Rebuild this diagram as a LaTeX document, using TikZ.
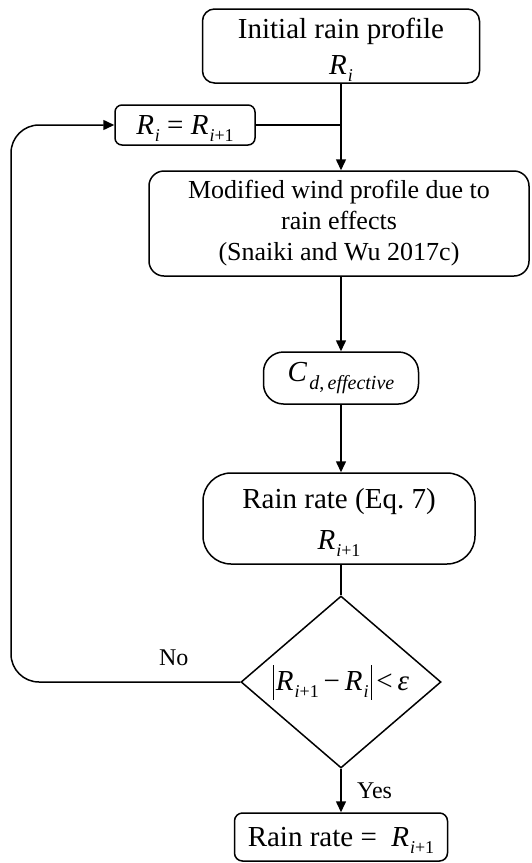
\documentclass[tikz,border=0pt]{standalone}
\usepackage{fontspec}
\setmainfont{Liberation Serif}
\usetikzlibrary{shapes.geometric,arrows.meta}

\newcommand{\lowsub}[1]{\kern1pt\raisebox{-7pt}[0pt][0pt]{\fontsize{18}{18}\selectfont #1}}
\newcommand{\Ri}{\textit{R}\lowsub{\textit{i}}}
\newcommand{\Rnext}{\textit{R}\lowsub{\textit{i}+1}}
\newcommand{\absbar}{\rule[-9pt]{0.9pt}{35pt}}

\begin{document}
\begin{tikzpicture}[x=1pt, y=-1pt,
    box/.style={draw, line width=1.5pt, inner sep=0pt, align=center},
    flow/.style={line width=1.5pt, -{Triangle[length=11pt,width=10pt]}},
    plain/.style={line width=1.5pt},
    lab/.style={font=\fontsize{24}{28}\selectfont}]
    \useasboundingbox (0,0) rectangle (531,863);

    % Main column
    \node[box, rounded corners=12pt, minimum width=277pt, minimum height=74pt,
          font=\fontsize{29}{36}\selectfont] (init) at (341,46) {Initial rain profile\\ \Ri};
    \node[box, rounded corners=15pt, minimum width=380pt, minimum height=105pt,
          font=\fontsize{26}{31}\selectfont] (wind) at (339,223.5)
          {Modified wind profile due to\\ rain effects\\ (Snaiki and Wu 2017c)};
    \node[box, rounded corners=20pt, minimum width=155pt, minimum height=52pt,
          font=\fontsize{29}{34}\selectfont] (cd) at (341,378)
          {\textit{C}\kern2pt\raisebox{-8pt}{\fontsize{20}{20}\selectfont\textit{d},\,\textit{effective}}};
    \node[box, rounded corners=28pt, minimum width=272pt, minimum height=91pt,
          font=\fontsize{29}{41}\selectfont] (rate) at (339,518.5) {Rain rate (Eq.~7)\\ \Rnext};
    \node[draw, diamond, line width=1.5pt, inner sep=0pt, aspect=1.16,
          minimum width=200pt, minimum height=172pt,
          font=\fontsize{29}{34}\selectfont] (check) at (341,682)
          {\absbar\kern2pt\Rnext\,−\,\Ri\kern2pt\absbar\,<\,\textit{ε}};
    \node[box, rounded corners=8pt, minimum width=213pt, minimum height=48pt,
          font=\fontsize{29}{34}\selectfont] (final) at (341,837) {Rain rate =\ \ \Rnext};

    % Update box
    \node[box, rounded corners=7pt, minimum width=140pt, minimum height=40pt,
          font=\fontsize{29}{34}\selectfont] (upd) at (185,125) {\Ri\ = \Rnext};
    \coordinate (loopx) at (11,400);

    % Arrows
    \draw[flow] (init.south) -- (init.south |- wind.north);
    \draw[plain] (upd.east) -- (upd.east -| init.south);
    \draw[flow] (wind.south -| cd.north) -- (cd.north);
    \draw[flow] (cd.south) -- (cd.south |- rate.north);
    \draw[plain] (rate.south -| check.north) -- (check.north);
    \draw[flow] (check.south) -- node[lab, right=12pt, midway] (yes) {Yes} (final.north);
    \draw[flow, rounded corners=28pt] (check.west)
        -- node[lab, above=12pt, pos=0.29] (no) {No} (check.west -| loopx)
        -- (upd.west -| loopx) -- (upd.west);
\end{tikzpicture}
\end{document}
